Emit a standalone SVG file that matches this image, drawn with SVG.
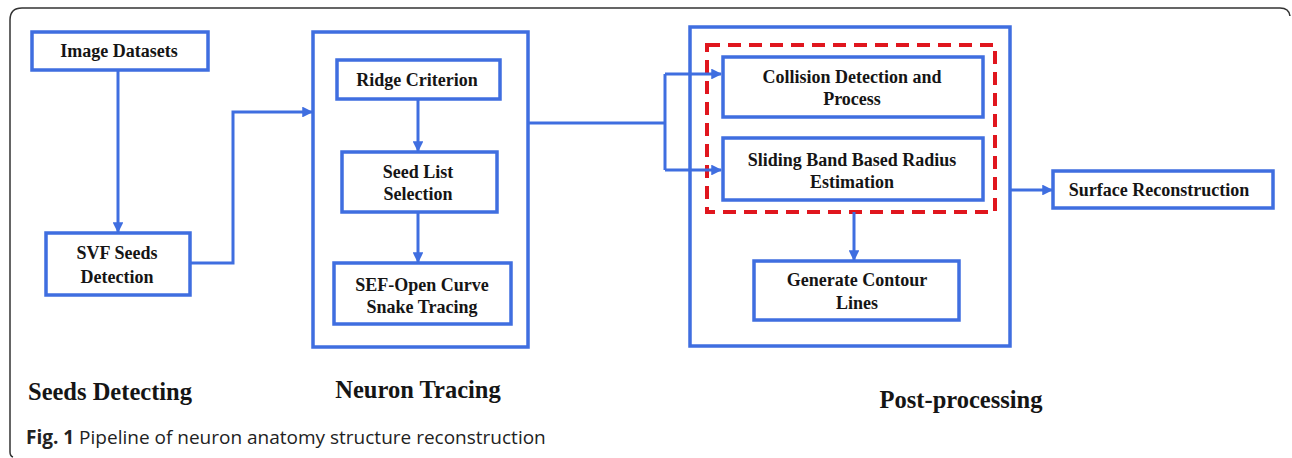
<svg xmlns="http://www.w3.org/2000/svg" width="1292" height="458" viewBox="0 0 1292 458">
  <style>
    .box { fill: #ffffff; stroke: #3f6ee0; stroke-width: 3.5; }
    .group { fill: none; stroke: #3f6ee0; stroke-width: 3.5; }
    .dash { fill: none; stroke: #e0161e; stroke-width: 4; stroke-dasharray: 13 8; }
    .wire { fill: none; stroke: #3f6ee0; stroke-width: 3; }
    .lbl { font-family: "Liberation Serif", "Times New Roman", serif; font-weight: bold; font-size: 18px; fill: #151515; text-anchor: middle; }
    .stage { font-family: "Liberation Serif", "Times New Roman", serif; font-weight: bold; font-size: 24.5px; fill: #151515; text-anchor: middle; }
    .cap { font-family: "Open Sans", "Noto Sans", "Liberation Sans", sans-serif; font-size: 19px; fill: #222222; }
  </style>
  <defs>
    <marker id="arrow" viewBox="0 0 10 10" refX="9" refY="5" markerWidth="3.6" markerHeight="3.6" orient="auto" markerUnits="strokeWidth">
      <path d="M0,0 L10,5 L0,10 Z" fill="#3f6ee0"/>
    </marker>
  </defs>

  <!-- figure frame -->
  <path d="M13,457 Q10,456 10,452 L10,20 Q10,8 22,8 L1280,8 Q1289,8 1290,16" fill="none" stroke="#333333" stroke-width="1.5"/>

  <!-- stage containers -->
  <g id="neuron-tracing-group">
    <rect class="group" x="313" y="32" width="215" height="315"/>
  </g>
  <g id="post-processing-group">
    <rect class="group" x="690" y="27" width="320" height="319"/>
    <rect class="dash" x="707" y="45" width="288" height="167"/>
  </g>

  <!-- connectors -->
  <g id="connectors">
    <path class="wire" d="M118,70 L118,232" marker-end="url(#arrow)"/>
    <path class="wire" d="M190,263 L233,263 L233,112 L312,112" marker-end="url(#arrow)"/>
    <path class="wire" d="M418,99 L418,151" marker-end="url(#arrow)"/>
    <path class="wire" d="M418,212 L418,262" marker-end="url(#arrow)"/>
    <path class="wire" d="M528,123 L665,123"/>
    <path class="wire" d="M665,74 L665,170"/>
    <path class="wire" d="M665,74 L721,74" marker-end="url(#arrow)"/>
    <path class="wire" d="M665,170 L721,170" marker-end="url(#arrow)"/>
    <path class="wire" d="M854,212 L854,260" marker-end="url(#arrow)"/>
    <path class="wire" d="M1010,190 L1052,190" marker-end="url(#arrow)"/>
  </g>

  <!-- nodes -->
  <g id="image-datasets">
    <rect class="box" x="32" y="32" width="176" height="38"/>
    <text class="lbl" x="119" y="57">Image Datasets</text>
  </g>
  <g id="svf-seeds-detection">
    <rect class="box" x="46" y="233" width="144" height="62"/>
    <text class="lbl" x="117" y="259">SVF Seeds</text>
    <text class="lbl" x="117" y="283">Detection</text>
  </g>
  <g id="ridge-criterion">
    <rect class="box" x="337" y="60" width="163" height="39"/>
    <text class="lbl" x="417" y="86">Ridge Criterion</text>
  </g>
  <g id="seed-list-selection">
    <rect class="box" x="342" y="152" width="155" height="60"/>
    <text class="lbl" x="418" y="178">Seed List</text>
    <text class="lbl" x="418" y="200">Selection</text>
  </g>
  <g id="sef-open-curve">
    <rect class="box" x="334" y="263" width="177" height="61"/>
    <text class="lbl" x="422" y="291">SEF-Open Curve</text>
    <text class="lbl" x="422" y="313">Snake Tracing</text>
  </g>
  <g id="collision-detection">
    <rect class="box" x="723" y="57" width="260" height="60"/>
    <text class="lbl" x="852" y="83">Collision Detection and</text>
    <text class="lbl" x="852" y="105">Process</text>
  </g>
  <g id="sliding-band">
    <rect class="box" x="723" y="138" width="260" height="62"/>
    <text class="lbl" x="852" y="166">Sliding Band Based Radius</text>
    <text class="lbl" x="852" y="188">Estimation</text>
  </g>
  <g id="generate-contour">
    <rect class="box" x="754" y="261" width="205" height="59"/>
    <text class="lbl" x="857" y="286">Generate Contour</text>
    <text class="lbl" x="857" y="309">Lines</text>
  </g>
  <g id="surface-reconstruction">
    <rect class="box" x="1053" y="171" width="220" height="37"/>
    <text class="lbl" x="1159" y="196">Surface Reconstruction</text>
  </g>

  <!-- stage titles -->
  <text class="stage" x="110" y="400">Seeds Detecting</text>
  <text class="stage" x="418" y="398">Neuron Tracing</text>
  <text class="stage" x="961" y="408">Post-processing</text>

  <!-- caption -->
  <text class="cap" x="26" y="444"><tspan font-weight="bold">Fig. 1</tspan> Pipeline of neuron anatomy structure reconstruction</text>
</svg>
